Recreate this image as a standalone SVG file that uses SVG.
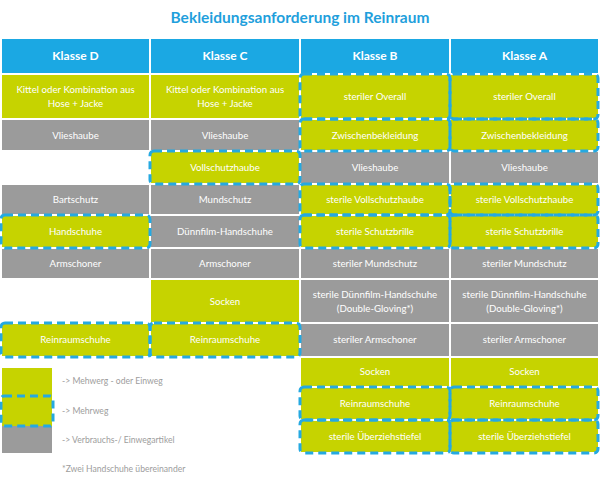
<svg xmlns="http://www.w3.org/2000/svg" width="600" height="479" viewBox="0 0 600 479">
<style>
.hd{fill:#1ba8e3}
.g{fill:#c6d300}
.gr{fill:#9b9b9b}
.d{fill:none;stroke:#25a9e1;stroke-width:3;stroke-dasharray:8 5}
text{font-family:Lato,"Open Sans","Liberation Sans",sans-serif;text-anchor:middle}
.t{fill:#ffffff;font-size:9.7px}
.h{fill:#ffffff;font-size:12px;font-weight:bold}
.ti{fill:#1f9fdc;font-size:15.5px;font-weight:bold}
.l{fill:#9d9d9d;font-size:8.6px;text-anchor:start}
</style>
<rect width="600" height="479" fill="#ffffff"/>
<text class="ti" x="300" y="23">Bekleidungsanforderung im Reinraum</text>

<g id="header">
<rect class="hd" x="2" y="39" width="147" height="34"/>
<rect class="hd" x="151" y="39" width="148" height="34"/>
<rect class="hd" x="301" y="39" width="148" height="34"/>
<rect class="hd" x="451" y="39" width="147" height="34"/>
<text class="h" x="75.5" y="60">Klasse D</text>
<text class="h" x="225" y="60">Klasse C</text>
<text class="h" x="375" y="60">Klasse B</text>
<text class="h" x="524.5" y="60">Klasse A</text>
</g>

<g id="klasse-d">
<g id="d-kittel"><rect class="g" x="2" y="75" width="147" height="43"/><text class="t" x="75.5" y="93">Kittel oder Kombination aus</text><text class="t" x="75.5" y="107">Hose  + Jacke</text></g>
<g id="d-vlieshaube"><rect class="gr" x="2" y="120" width="147" height="30"/><text class="t" x="75.5" y="138.5">Vlieshaube</text></g>
<g id="d-bartschutz"><rect class="gr" x="2" y="185" width="147" height="29"/><text class="t" x="75.5" y="202.5">Bartschutz</text></g>
<g id="d-handschuhe"><rect class="g" x="2" y="216" width="147" height="31"/><text class="t" x="75.5" y="235">Handschuhe</text></g>
<g id="d-armschoner"><rect class="gr" x="2" y="249" width="147" height="29"/><text class="t" x="75.5" y="267">Armschoner</text></g>
<g id="d-reinraumschuhe"><rect class="g" x="2" y="324" width="147" height="32"/><text class="t" x="75.5" y="343">Reinraumschuhe</text></g>
</g>

<g id="klasse-c">
<g id="c-kittel"><rect class="g" x="151" y="75" width="148" height="43"/><text class="t" x="225" y="93">Kittel oder Kombination aus</text><text class="t" x="225" y="107">Hose  + Jacke</text></g>
<g id="c-vlieshaube"><rect class="gr" x="151" y="120" width="148" height="30"/><text class="t" x="225" y="138.5">Vlieshaube</text></g>
<g id="c-vollschutzhaube"><rect class="g" x="151" y="152" width="148" height="31"/><text class="t" x="225" y="170.5">Vollschutzhaube</text></g>
<g id="c-mundschutz"><rect class="gr" x="151" y="185" width="148" height="29"/><text class="t" x="225" y="202.5">Mundschutz</text></g>
<g id="c-duennfilm"><rect class="gr" x="151" y="216" width="148" height="31"/><text class="t" x="225" y="235">Dünnfilm-Handschuhe</text></g>
<g id="c-armschoner"><rect class="gr" x="151" y="249" width="148" height="29"/><text class="t" x="225" y="267">Armschoner</text></g>
<g id="c-socken"><rect class="g" x="151" y="280" width="148" height="42"/><text class="t" x="225" y="304.5">Socken</text></g>
<g id="c-reinraumschuhe"><rect class="g" x="151" y="324" width="148" height="32"/><text class="t" x="225" y="343">Reinraumschuhe</text></g>
</g>

<g id="klasse-b">
<g id="b-overall"><rect class="g" x="301" y="75" width="148" height="43"/><text class="t" x="375" y="100">steriler Overall</text></g>
<g id="b-zwischen"><rect class="g" x="301" y="120" width="148" height="30"/><text class="t" x="375" y="138.5">Zwischenbekleidung</text></g>
<g id="b-vlieshaube"><rect class="gr" x="301" y="152" width="148" height="31"/><text class="t" x="375" y="170.5">Vlieshaube</text></g>
<g id="b-vollschutzhaube"><rect class="g" x="301" y="185" width="148" height="29"/><text class="t" x="375" y="202.5">sterile Vollschutzhaube</text></g>
<g id="b-schutzbrille"><rect class="g" x="301" y="216" width="148" height="31"/><text class="t" x="375" y="235">sterile Schutzbrille</text></g>
<g id="b-mundschutz"><rect class="gr" x="301" y="249" width="148" height="29"/><text class="t" x="375" y="267">steriler Mundschutz</text></g>
<g id="b-duennfilm"><rect class="gr" x="301" y="280" width="148" height="42"/><text class="t" x="375" y="297.5">sterile Dünnfilm-Handschuhe</text><text class="t" x="375" y="311.5">(Double-Gloving*)</text></g>
<g id="b-armschoner"><rect class="gr" x="301" y="324" width="148" height="32"/><text class="t" x="375" y="343">steriler Armschoner</text></g>
<g id="b-socken"><rect class="g" x="301" y="358" width="148" height="28"/><text class="t" x="375" y="375">Socken</text></g>
<g id="b-reinraumschuhe"><rect class="g" x="301" y="388" width="148" height="31"/><text class="t" x="375" y="406.5">Reinraumschuhe</text></g>
<g id="b-ueberziehstiefel"><rect class="g" x="301" y="421" width="148" height="31"/><text class="t" x="375" y="439.5">sterile Überziehstiefel</text></g>
</g>

<g id="klasse-a">
<g id="a-overall"><rect class="g" x="451" y="75" width="147" height="43"/><text class="t" x="524.5" y="100">steriler Overall</text></g>
<g id="a-zwischen"><rect class="g" x="451" y="120" width="147" height="30"/><text class="t" x="524.5" y="138.5">Zwischenbekleidung</text></g>
<g id="a-vlieshaube"><rect class="gr" x="451" y="152" width="147" height="31"/><text class="t" x="524.5" y="170.5">Vlieshaube</text></g>
<g id="a-vollschutzhaube"><rect class="g" x="451" y="185" width="147" height="29"/><text class="t" x="524.5" y="202.5">sterile Vollschutzhaube</text></g>
<g id="a-schutzbrille"><rect class="g" x="451" y="216" width="147" height="31"/><text class="t" x="524.5" y="235">sterile Schutzbrille</text></g>
<g id="a-mundschutz"><rect class="gr" x="451" y="249" width="147" height="29"/><text class="t" x="524.5" y="267">steriler Mundschutz</text></g>
<g id="a-duennfilm"><rect class="gr" x="451" y="280" width="147" height="42"/><text class="t" x="524.5" y="297.5">sterile Dünnfilm-Handschuhe</text><text class="t" x="524.5" y="311.5">(Double-Gloving*)</text></g>
<g id="a-armschoner"><rect class="gr" x="451" y="324" width="147" height="32"/><text class="t" x="524.5" y="343">steriler Armschoner</text></g>
<g id="a-socken"><rect class="g" x="451" y="358" width="147" height="28"/><text class="t" x="524.5" y="375">Socken</text></g>
<g id="a-reinraumschuhe"><rect class="g" x="451" y="388" width="147" height="31"/><text class="t" x="524.5" y="406.5">Reinraumschuhe</text></g>
<g id="a-ueberziehstiefel"><rect class="g" x="451" y="421" width="147" height="31"/><text class="t" x="524.5" y="439.5">sterile Überziehstiefel</text></g>
</g>

<g id="mehrweg-rahmen">
<rect class="d" x="1" y="215" width="149" height="33" rx="4"/>
<rect class="d" x="1" y="323" width="149" height="34" rx="4"/>
<rect class="d" x="150" y="151" width="150" height="33" rx="4"/>
<rect class="d" x="150" y="323" width="150" height="34" rx="4"/>
<rect class="d" x="300" y="74" width="150" height="45" rx="4"/>
<rect class="d" x="300" y="119" width="150" height="32" rx="4"/>
<rect class="d" x="300" y="184" width="150" height="31" rx="4"/>
<rect class="d" x="300" y="215" width="150" height="33" rx="4"/>
<rect class="d" x="300" y="387" width="150" height="33" rx="4"/>
<rect class="d" x="300" y="420" width="150" height="33" rx="4"/>
<rect class="d" x="450" y="74" width="148" height="45" rx="4"/>
<rect class="d" x="450" y="119" width="148" height="32" rx="4"/>
<rect class="d" x="450" y="184" width="148" height="31" rx="4"/>
<rect class="d" x="450" y="215" width="148" height="33" rx="4"/>
<rect class="d" x="450" y="387" width="148" height="33" rx="4"/>
<rect class="d" x="450" y="420" width="148" height="33" rx="4"/>
</g>

<g id="connectors"></g>

<g id="legende">
<rect class="g" x="2" y="368" width="50" height="58"/>
<rect class="gr" x="2" y="426" width="50" height="27"/>
<rect class="d" x="1" y="396" width="52" height="30" rx="3"/>
<text class="l" x="62" y="384">-&gt; Mehwerg - oder Einweg</text>
<text class="l" x="62" y="414">-&gt; Mehrweg</text>
<text class="l" x="62" y="443">-&gt; Verbrauchs-/ Einwegartikel</text>
<text class="l" x="62" y="472">*Zwei Handschuhe übereinander</text>
</g>
</svg>
